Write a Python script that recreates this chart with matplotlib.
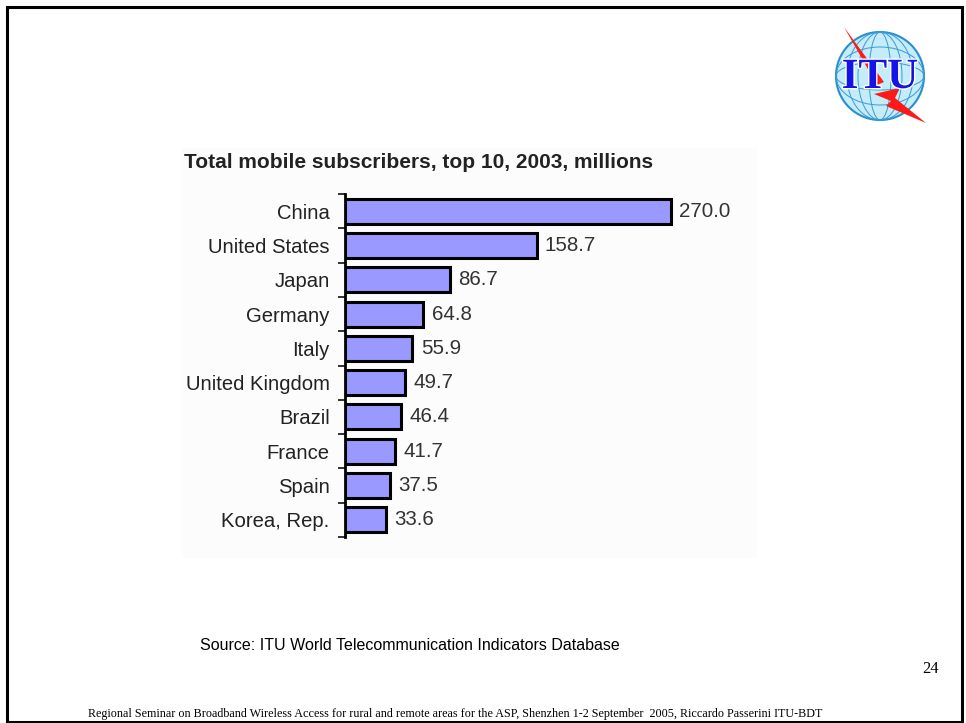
import matplotlib
matplotlib.use('Agg')
import matplotlib.pyplot as plt
import matplotlib.patheffects as pe
from matplotlib.patches import Rectangle, Circle, Ellipse, Polygon
import numpy as np

countries = ['China', 'United States', 'Japan', 'Germany', 'Italy',
             'United Kingdom', 'Brazil', 'France', 'Spain', 'Korea, Rep.']
subscribers = [270.0, 158.7, 86.7, 64.8, 55.9, 49.7, 46.4, 41.7, 37.5, 33.6]

W, H = 966, 723
fig = plt.figure(figsize=(W / 100, H / 100), dpi=100)
fig.patch.set_facecolor('white')

def fx(px):
    return px / W

def fy(py):
    return 1 - py / H

# slide frame
fig.add_artist(Rectangle((fx(7), fy(722)), fx(955), fy(7) - fy(722),
                         transform=fig.transFigure, fill=False,
                         edgecolor='black', linewidth=2.2))

# light panel behind the chart
fig.add_artist(Rectangle((fx(182), fy(558)), fx(575), fy(148) - fy(558),
                         transform=fig.transFigure, facecolor='#fcfcfc',
                         edgecolor='none', zorder=0))

fig.text(fx(184), fy(163), 'Total mobile subscribers, top 10, 2003, millions',
         family='Liberation Sans', fontsize=15, fontweight='bold',
         color='#222222', va='center', ha='left')

# chart axes
ax = fig.add_axes([fx(345), fy(537), fx(410), fy(194) - fy(537)])
ax.set_facecolor('none')
y = np.arange(len(countries))
ax.barh(y, subscribers, height=0.73, color='#9999ff',
        edgecolor='black', linewidth=2.2)
for yi, v in zip(y, subscribers):
    ax.annotate(f'{v:.1f}', (v, yi), xytext=(6, 0), textcoords='offset points',
                va='center', ha='left', family='Liberation Sans',
                fontsize=14.8, color='#333333')

ax.set_xlim(0, 410 / 1.2074)
ax.set_ylim(9.5, -0.5)
ax.set_yticks(y)
ax.set_yticklabels(countries, family='Liberation Sans', fontsize=14.6,
                   color='#222222')
ax.set_yticks(np.arange(-0.5, 10, 1), minor=True)
ax.tick_params(axis='y', which='major', length=0, pad=11)
ax.tick_params(axis='y', which='minor', length=5, width=1.3, color='#222222')
ax.set_xticks([])
for s in ['top', 'right', 'bottom']:
    ax.spines[s].set_visible(False)
ax.spines['left'].set_linewidth(2)
ax.spines['left'].set_color('black')

fig.text(fx(200), fy(645), 'Source: ITU World Telecommunication Indicators Database',
         family='Liberation Sans', fontsize=11.5, color='black',
         va='center', ha='left')

fig.text(fx(931), fy(669), '24', family='Liberation Serif', fontsize=12,
         va='center', ha='center')

fig.text(fx(455), fy(714),
         'Regional Seminar on Broadband Wireless Access for rural and remote areas '
         'for the ASP, Shenzhen 1-2 September  2005, Riccardo Passerini ITU-BDT',
         family='Liberation Serif', fontsize=8.7, va='center', ha='center')

# ITU logo: globe, lightning bolt and letters
lx = fig.add_axes([fx(828), fy(128), fx(106), fy(22) - fy(128)])
lx.set_xlim(0, 106)
lx.set_ylim(106, 0)
lx.set_aspect('equal')
lx.axis('off')
lx.add_patch(Circle((52, 54), 44, facecolor='#c4ecf9', edgecolor='#2a8fd0', lw=1.5))
for w in [22, 44, 66]:
    lx.add_patch(Ellipse((52, 54), w, 88, fill=False, edgecolor='#3a9ad8', lw=0.7))
for hgt in [28, 58]:
    lx.add_patch(Ellipse((52, 54), 88, hgt, fill=False, edgecolor='#3a9ad8', lw=0.7))
# upper thin streak and lower zigzag of the bolt
lx.add_patch(Polygon([(16, 5), (56, 60), (49, 63)], closed=True,
                     facecolor='#ff1a1a', edgecolor='none'))
lx.add_patch(Polygon([(46, 72), (72, 66), (67, 76), (98, 101), (58, 84), (63, 79)],
                     closed=True, facecolor='#ff1a1a', edgecolor='none'))
lx.text(52, 56, 'ITU', family='Liberation Serif', fontweight='bold',
        fontsize=31, color='#1414e6', ha='center', va='center',
        path_effects=[pe.withStroke(linewidth=2, foreground='white')])

fig.savefig('out.png', dpi=100)
plt.close(fig)
